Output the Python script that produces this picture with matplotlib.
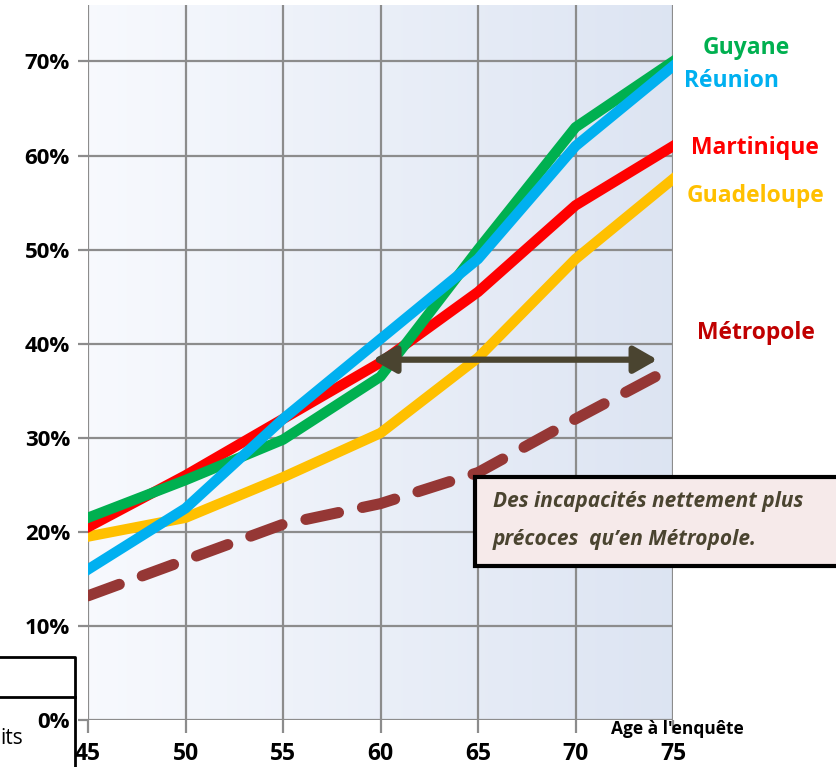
import numpy as np
from matplotlib import pyplot as plt
from matplotlib.patches import FancyArrowPatch

plt.rcParams['font.family'] = ['Open Sans', 'DejaVu Sans']

ages = [45, 50, 55, 60, 65, 70, 75]
guyane = [21.5, 25.5, 29.8, 36.5, 50.0, 63.0, 70.0]
reunion = [16.0, 22.5, 32.0, 40.5, 49.0, 61.0, 69.5]
martinique = [20.5, 26.0, 32.0, 38.0, 45.5, 54.7, 61.0]
guadeloupe = [19.5, 21.5, 25.8, 30.5, 38.5, 49.0, 57.5]
metropole = [13.2, 17.0, 20.8, 23.0, 26.3, 32.0, 37.5]
yticks = [0, 10, 20, 30, 40, 50, 60, 70]

fig = plt.figure(figsize=(8.36, 7.67), dpi=100)
ax = fig.add_axes([88/836, 47/767, 585/836, 715/767])
ax.set_xlim(45, 75)
ax.set_ylim(0, 76)

# fond en dégradé
grad = np.linspace(0, 1, 256).reshape(1, -1)
c0 = np.array([0.97, 0.978, 0.995])
c1 = np.array([0.865, 0.895, 0.95])
img = c0 + (c1 - c0) * grad[..., None]
ax.imshow(img, extent=[45, 75, 0, 76], aspect='auto', zorder=0)

for x in ages:
    ax.axvline(x, color='#8c8c8c', lw=1.6, zorder=1)
for y in yticks:
    ax.axhline(y, color='#8c8c8c', lw=1.6, zorder=1)

ax.plot(ages, metropole, color='#953735', lw=8, ls=(0, (3, 2.2)), solid_capstyle='round', dash_capstyle='round', zorder=3)
ax.plot(ages, guadeloupe, color='#ffc000', lw=7.5, zorder=3)
ax.plot(ages, martinique, color='#ff0000', lw=7.5, zorder=3)
ax.plot(ages, guyane, color='#00b050', lw=7.5, zorder=3)
ax.plot(ages, reunion, color='#00b0f0', lw=7.5, zorder=3)

arrow = FancyArrowPatch((59.6, 38.3), (74.2, 38.3), arrowstyle='<|-|>,head_length=14,head_width=8',
                        color='#4a4430', lw=4.5, zorder=4, shrinkA=0, shrinkB=0)
ax.add_patch(arrow)

for s in ax.spines.values():
    s.set_visible(False)
ax.set_xticks(ages)
ax.set_xticklabels([str(a) for a in ages], fontsize=16.5, fontweight='bold')
ax.set_yticks(yticks)
ax.set_yticklabels([f"{y}%" for y in yticks], fontsize=16, fontweight='bold')
ax.tick_params(axis='x', length=9, width=1.6, color='#8c8c8c', pad=7)
ax.tick_params(axis='y', length=7, width=1.6, color='#8c8c8c', pad=6)
ax.text(75.2, -0.95, "Age à l'enquête", fontsize=12.5, fontweight='bold', ha='center', va='center', clip_on=False)

# étiquettes des séries
lab = dict(fontsize=16.5, fontweight='bold', ha='center', va='center')
fig.text(746/836, 1 - 48/767, 'Guyane', color='#00b050', **lab)
fig.text(731/836, 1 - 81/767, 'Réunion', color='#00b0f0', **lab)
fig.text(755/836, 1 - 148/767, 'Martinique', color='#ff0000', **lab)
fig.text(756/836, 1 - 196/767, 'Guadeloupe', color='#ffc000', **lab)
fig.text(756/836, 1 - 333/767, 'Métropole', color='#c00000', **lab)

# encadré
fig.patches.append(plt.Rectangle((475/836, 1 - 566/767), 370/836, 89/767, transform=fig.transFigure,
                                 facecolor='#f6eaea', edgecolor='black', lw=3, zorder=5))
fig.text(493/836, 1 - 502/767, 'Des incapacités nettement plus', fontsize=15, fontstyle='italic',
         fontweight='bold', color='#4a4430', va='center', zorder=6)
fig.text(493/836, 1 - 540/767, 'précoces  qu\u2019en Métropole.', fontsize=15, fontstyle='italic',
         fontweight='bold', color='#4a4430', va='center', zorder=6)

# reste d'un autre encadré à gauche
fig.lines.append(plt.Line2D([0, 75/836, 75/836], [1 - 657/767, 1 - 657/767, 0], transform=fig.transFigure,
                            color='black', lw=2))
fig.lines.append(plt.Line2D([0, 75/836], [1 - 697/767, 1 - 697/767], transform=fig.transFigure,
                            color='black', lw=2))
fig.text(0/836, 1 - 738/767, 'its', fontsize=15, va='center')

fig.savefig('out.png', dpi=100)
